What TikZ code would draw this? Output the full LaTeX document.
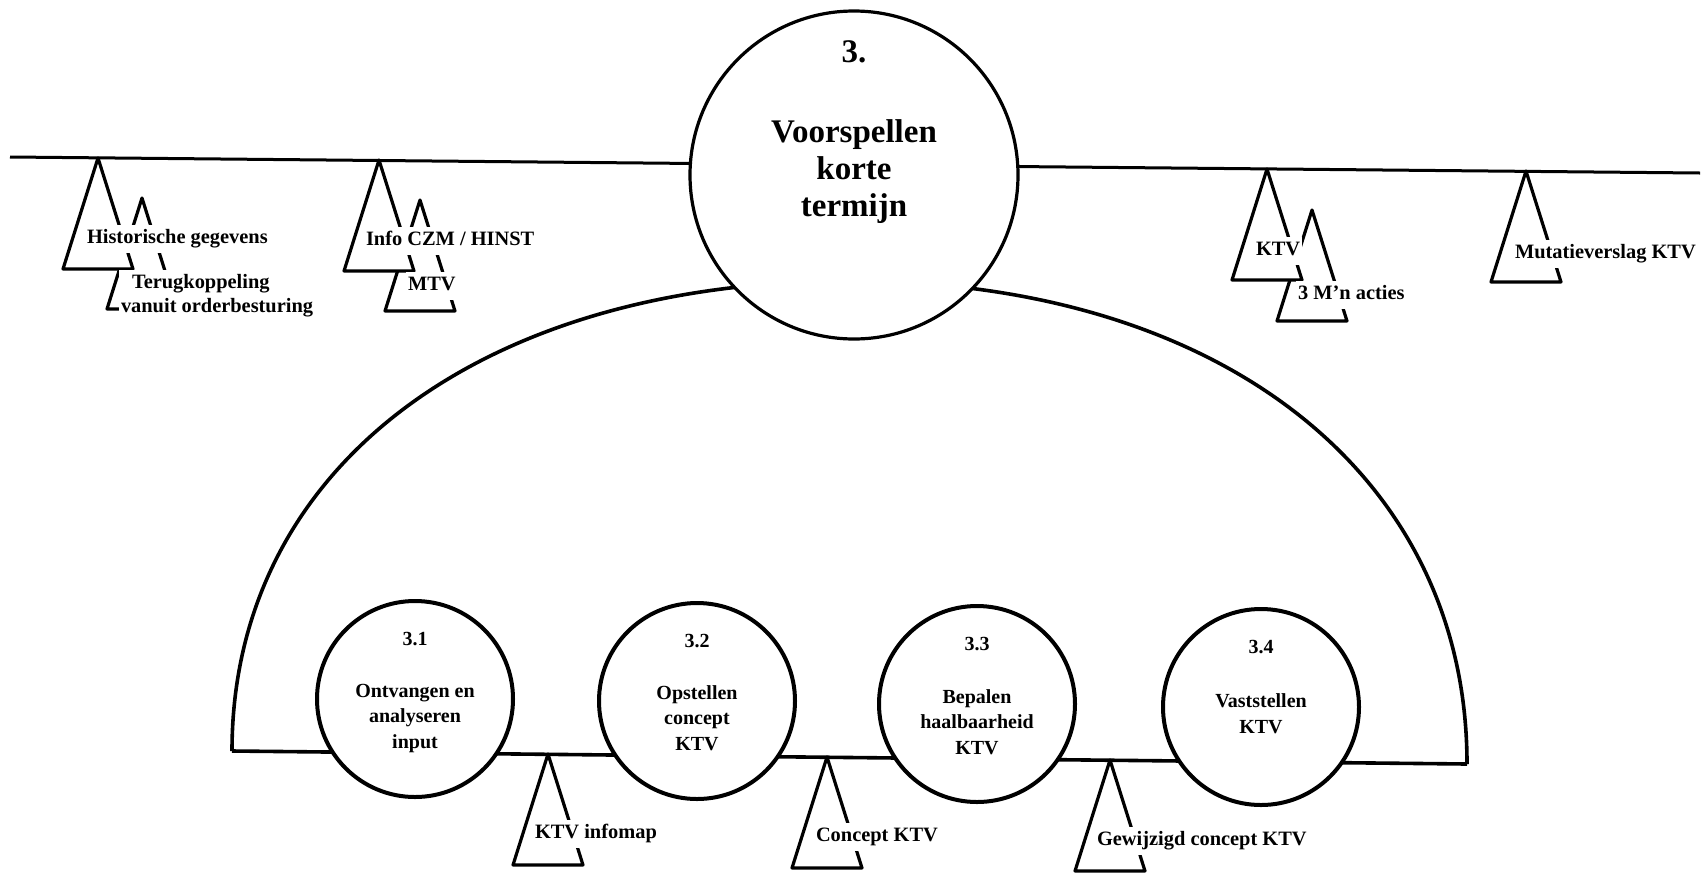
\documentclass[tikz,border=0pt]{standalone}
\usepackage{fontspec}
\setmainfont{Liberation Serif}
\begin{document}
\begin{tikzpicture}[x=0.5pt,y=-0.5pt,
  line join=round,
  proc/.style={circle, draw, fill=white, inner sep=0pt, outer sep=0pt},
  bigproc/.style={proc, line width=1.6pt, minimum size=164pt},
  subproc/.style={proc, line width=2pt, minimum size=98pt},
  num/.style={font=\bfseries\fontsize{10}{12}\selectfont, anchor=base, inner sep=0pt},
  ptext/.style={font=\bfseries\fontsize{10}{12.75}\selectfont, align=center, anchor=base, inner sep=0pt},
  bignum/.style={font=\bfseries\fontsize{16.5}{18.5}\selectfont, anchor=base, inner sep=0pt},
  bigtext/.style={font=\bfseries\fontsize{16.5}{18.5}\selectfont, align=center, anchor=base, inner sep=0pt},
  flow/.style={line width=1.5pt},
  dome/.style={line width=1.8pt},
  dslabel/.style={font=\bfseries\fontsize{10.2}{12}\selectfont, anchor=base west, fill=white,
    inner xsep=1pt, inner ysep=2pt, outer sep=0pt, text height=7pt, text depth=3pt},
  store/.pic={\draw[line width=1.6pt, fill=white, line join=round] (0,0) -- (-35,111) -- (35,111) -- cycle;}
]
\useasboundingbox (0,0) rectangle (1708,879);

% end points of the main flow line and of the base line
\coordinate (TL) at (10,157);
\coordinate (TR) at (1700,173);
\coordinate (BL) at (232,751);
\coordinate (BR) at (1467,764);
\coordinate (TOP) at (850,281);

% main flow line
\draw[flow] (TL) -- (TR);

% decomposition boundary
\draw[dome] (BL) .. controls (232,469) and (479,281) .. (TOP)
                 .. controls (1220,281) and (1467,474) .. (BR);
\draw[dome] (BL) -- (BR);

% main process
\node[bigproc] (p3) at (854,175) {};
\node[bignum] (p3n) at (854,62) {3.};
\node[bigtext] (p3t) at (854,216) {Voorspellen\\korte\\termijn};

% sub processes
\node[subproc] (p31) at (415,699) {};
\node[subproc] (p32) at (697,701) {};
\node[subproc] (p33) at (977,704) {};
\node[subproc] (p34) at (1261,707) {};
\node[num] (p31n) at (415,645) {3.1};
\node[num] (p32n) at (697,647) {3.2};
\node[num] (p33n) at (977,650) {3.3};
\node[num] (p34n) at (1261,653) {3.4};
\node[ptext] (p31t) at (415,748) {Ontvangen en\\analyseren\\input};
\node[ptext] (p32t) at (697,750) {Opstellen\\concept\\KTV};
\node[ptext] (p33t) at (977,754) {Bepalen\\haalbaarheid\\KTV};
\node[ptext] (p34t) at (1261,733) {Vaststellen\\KTV};

% attachment points of the data stores
\coordinate (a1)  at (98,158);
\coordinate (a1b) at (142,198);
\coordinate (a2)  at (379,160);
\coordinate (a2b) at (420,200);
\coordinate (a3)  at (1267,169);
\coordinate (a3b) at (1312,210);
\coordinate (a4)  at (1526,171);
\coordinate (a5)  at (548,754);
\coordinate (a6)  at (827,757);
\coordinate (a7)  at (1110,760);

% data stores, rear ones first
\pic at (a1b) {store};
\pic at (a2b) {store};
\pic at (a3b) {store};
\pic at (a1) {store};
\pic at (a2) {store};
\pic at (a3) {store};
\pic at (a4) {store};
\pic at (a5) {store};
\pic at (a6) {store};
\pic at (a7) {store};

% data store labels
\node[dslabel] (l1)  at (85,243)  {Historische gegevens};
\node[dslabel, text height=, text depth=, align=left] (l1b) at (119,312)
  {\hspace*{5.5pt}Terugkoppeling\\vanuit orderbesturing};
\node[dslabel] (l2)  at (364,245) {Info CZM / HINST};
\node[dslabel] (l2b) at (406,290) {MTV};
\node[dslabel] (l3)  at (1254,255) {KTV};
\node[dslabel] (l3b) at (1296,299) {3 M'n acties};
\node[dslabel] (l4)  at (1513,258) {Mutatieverslag KTV};
\node[dslabel] (l5)  at (533,838) {KTV infomap};
\node[dslabel] (l6)  at (814,841) {Concept KTV};
\node[dslabel] (l7)  at (1095,845) {Gewijzigd concept KTV};
\end{tikzpicture}
\end{document}
